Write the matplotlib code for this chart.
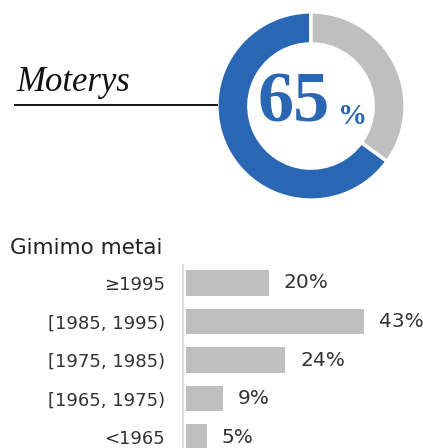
import matplotlib
matplotlib.use("Agg")
import matplotlib.pyplot as plt

W, H = 423, 448

share = [65, 35]
share_colors = ["#2966b3", "#bfbfbf"]
donut_label = "Moterys"

categories = ["≥1995", "[1985, 1995)", "[1975, 1985)", "[1965, 1975)", "<1965"]
values = [20, 43, 24, 9, 5]
bar_title = "Gimimo metai"

fig = plt.figure(figsize=(W / 100, H / 100), dpi=100)

def fx(px):
    return px / W

def fy(py):
    return 1 - py / H

# donut
ax_d = fig.add_axes([fx(215), fy(202), 192 / W, 192 / H])
ax_d.pie(share, colors=share_colors, startangle=90, counterclock=True,
         wedgeprops=dict(width=0.34, edgecolor="white", linewidth=2.5))
ax_d.set_xlim(-1.02, 1.02)
ax_d.set_ylim(-1.02, 1.02)
ax_d.set_axis_off()

fig.text(fx(294), fy(104), "%d" % share[0], color=share_colors[0], fontsize=52,
         fontweight="bold", family="Liberation Serif", ha="center", va="center")
fig.text(fx(353), fy(117), "%", color=share_colors[0], fontsize=21,
         fontweight="bold", family="Liberation Serif", ha="center", va="center")

fig.text(fx(16), fy(91), donut_label, fontsize=25, style="italic",
         family="Liberation Serif", color="#111111", ha="left", va="baseline")
fig.add_artist(plt.Line2D([fx(15), fx(217)], [fy(105), fy(105)],
                          color="black", linewidth=1.3))

# bars
ax_b = fig.add_axes([fx(186), 0, 206.5 / W, (448 - 265) / H])
ypos = list(range(len(values)))
ax_b.barh(ypos, values, height=0.65, color="#bfbfbf")
ax_b.set_xlim(0, 50)
ax_b.set_ylim((448 - 283) / 38.5, -(283 - 265) / 38.5)
for s in ["top", "right", "bottom"]:
    ax_b.spines[s].set_visible(False)
ax_b.spines["left"].set_color("#dddddd")
ax_b.spines["left"].set_linewidth(1.5)
ax_b.spines["left"].set_position(("outward", 2))
ax_b.set_xticks([])
ax_b.set_yticks(ypos)
ax_b.set_yticklabels(categories, fontsize=13, color="#333333")
ax_b.tick_params(axis="y", length=0, pad=13)
for y, v in zip(ypos, values):
    ax_b.annotate("%d%%" % v, (v, y), xytext=(15, 0), textcoords="offset pixels",
                  va="center", ha="left", fontsize=14.5, color="#333333")

fig.text(fx(10), fy(248), bar_title, fontsize=15.5, color="#222222",
         ha="left", va="center")

fig.savefig("out.png", dpi=100)
